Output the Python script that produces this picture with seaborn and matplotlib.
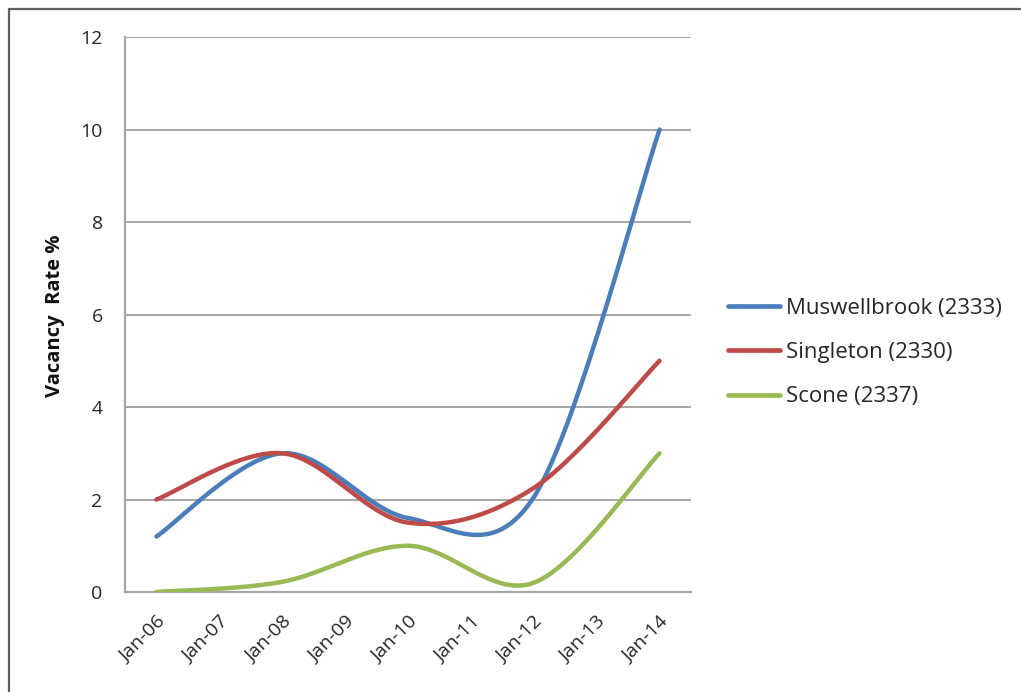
import numpy as np
import pandas as pd
import matplotlib
matplotlib.use("Agg")
import matplotlib.pyplot as plt
from matplotlib.lines import Line2D
import seaborn as sns

# Category axis (yearly) and observed vacancy rates (every second January)
months = ["Jan-06", "Jan-07", "Jan-08", "Jan-09", "Jan-10",
          "Jan-11", "Jan-12", "Jan-13", "Jan-14"]
obs_months = ["Jan-06", "Jan-08", "Jan-10", "Jan-12", "Jan-14"]
muswellbrook = [1.2, 3.0, 1.6, 2.05, 10.0]
singleton = [2.0, 3.0, 1.5, 2.25, 5.0]
scone = [0.0, 0.22, 1.0, 0.2, 3.0]
series_names = ["Muswellbrook (2333)", "Singleton (2330)", "Scone (2337)"]
colors = ["#4A7EBB", "#BE4B48", "#98B954"]
y_ticks = [0, 2, 4, 6, 8, 10, 12]


def smooth_curve(xs, ys, steps=60):
    """Piecewise cubic Bezier through the points (spreadsheet-style smoothing)."""
    p = np.column_stack([xs, ys]).astype(float)
    ext = np.vstack([p[0], p, p[-1]])
    out = []
    for i in range(len(p) - 1):
        p0, p1 = p[i], p[i + 1]
        c1 = p0 + (ext[i + 2] - ext[i]) / 6.0
        c2 = p1 - (ext[i + 3] - ext[i + 1]) / 6.0
        t = np.linspace(0, 1, steps, endpoint=(i == len(p) - 2))[:, None]
        seg = ((1 - t) ** 3) * p0 + 3 * ((1 - t) ** 2) * t * c1 \
            + 3 * (1 - t) * t ** 2 * c2 + t ** 3 * p1
        out.append(seg)
    return np.vstack(out)


x_pos = [months.index(m) for m in obs_months]
frames = []
for name, vals in zip(series_names, [muswellbrook, singleton, scone]):
    c = smooth_curve(x_pos, vals)
    frames.append(pd.DataFrame({"x": c[:, 0], "rate": c[:, 1], "series": name}))
df = pd.concat(frames, ignore_index=True)

sns.set_theme(style="white")
plt.rcParams["font.family"] = ["Open Sans", "DejaVu Sans"]

fig = plt.figure(figsize=(10.21, 6.92), dpi=100)
ax = fig.add_axes([0.1224, 0.1445, 0.5544, 0.802])

sns.lineplot(data=df, x="x", y="rate", hue="series", hue_order=series_names,
             palette=dict(zip(series_names, colors)), linewidth=3.2,
             sort=False, estimator=None, ax=ax, legend=False, zorder=3)

grid_col = "#A6A6A6"
text_col = "#262626"
ax.set_xlim(-0.5, len(months) - 0.5)
ax.set_ylim(0, 12)
ax.set_yticks(y_ticks)
ax.set_yticklabels([str(v) for v in y_ticks], fontsize=14, color=text_col)
ax.set_xticks(range(len(months)))
ax.set_xticklabels(months, rotation=45, ha="right", rotation_mode="anchor",
                   fontsize=14, color=text_col)
ax.tick_params(axis="both", length=0)
ax.tick_params(axis="y", pad=16)
ax.tick_params(axis="x", pad=15)
ax.yaxis.grid(True, color=grid_col, linewidth=1.4)
ax.set_axisbelow(True)
for side in ["top", "right"]:
    ax.spines[side].set_visible(False)
for side in ["left", "bottom"]:
    ax.spines[side].set_color(grid_col)
    ax.spines[side].set_linewidth(1.6)
ax.set_xlabel("")
ax.set_ylabel("Vacancy  Rate %", fontsize=14.5, fontweight="bold",
              color="#111111")
ax.yaxis.set_label_coords(-0.106, 0.497)

handles = [Line2D([0], [0], color=c, linewidth=3.4) for c in colors]
fig.legend(handles, series_names, loc="center left",
           bbox_to_anchor=(0.693, 0.4906), frameon=False, fontsize=16,
           handlelength=2.36, handletextpad=0.25, labelspacing=1.05,
           labelcolor=text_col)

# thin frame along the top and left edges of the figure
border = "#606060"
fig.add_artist(Line2D([9 / 1021, 1], [1 - 9 / 692, 1 - 9 / 692],
                      transform=fig.transFigure, color=border, linewidth=1.6))
fig.add_artist(Line2D([9 / 1021, 9 / 1021], [0, 1 - 9 / 692],
                      transform=fig.transFigure, color=border, linewidth=1.6))

fig.savefig("out.png", dpi=100, facecolor="white")
